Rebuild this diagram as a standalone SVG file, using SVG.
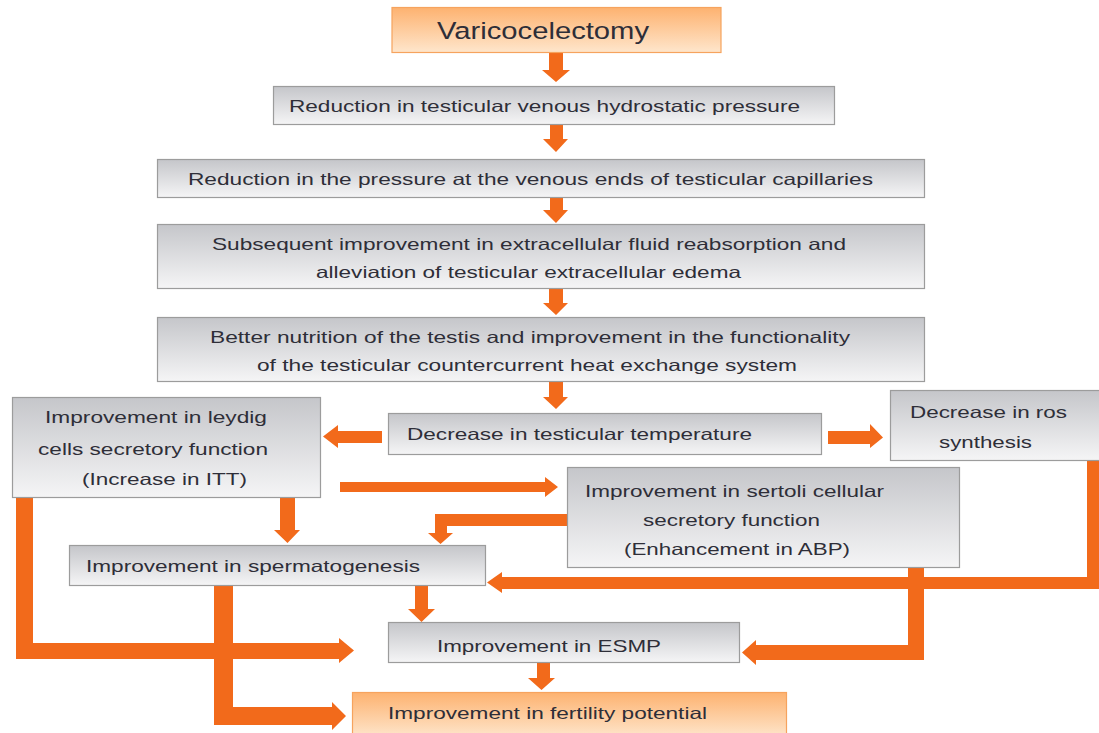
<svg xmlns="http://www.w3.org/2000/svg" width="1099" height="733" viewBox="0 0 1099 733">
<defs>
<linearGradient id="gGray" x1="0" y1="0" x2="0" y2="1">
<stop offset="0" stop-color="#c5c6ca"/>
<stop offset="1" stop-color="#f5f5f6"/>
</linearGradient>
<linearGradient id="gOrange" x1="0" y1="0" x2="0" y2="1">
<stop offset="0" stop-color="#fdb270"/>
<stop offset="1" stop-color="#fee6cc"/>
</linearGradient>
<style>
.box{fill:url(#gGray);stroke:#9c9c9c;stroke-width:1.2}
.obox{fill:url(#gOrange);stroke:#f6a35e;stroke-width:1.2}
.t{font-family:"Liberation Sans",Arial,sans-serif;font-size:16.5px;fill:#2e2e38}
.big{font-size:24.5px}
.c path{fill:#f26a1b;stroke:none}
</style>
</defs>
<rect width="1099" height="733" fill="#ffffff"/>

<g id="connectors" class="c">
<!-- straight down arrows -->
<path d="M549,53 H563 V70 H570 L556,82 L542,70 H549 Z"/>
<path d="M550,124 H563 V139 H568 L556,152 L543,139 H550 Z"/>
<path d="M550,198 H563 V210 H568 L556,223 L543,210 H550 Z"/>
<path d="M549,289 H563 V303 H568 L556,315 L543,303 H549 Z"/>
<path d="M549,382 H563 V397 H568 L556,409 L543,397 H549 Z"/>
<!-- temperature -> leydig -->
<path d="M382,431 V443 H338 V448 L323,436.5 L338,425 V431 Z"/>
<!-- temperature -> ros -->
<path d="M828,431 V444 H870 V448 L883,437.5 L870,424 V431 Z"/>
<!-- leydig -> sertoli -->
<path d="M340,482 H545 V477 L558,487 L545,497 V492 H340 Z"/>
<!-- leydig -> spermatogenesis -->
<path d="M280,498 H295 V530 H300 L287.5,543 L274,530 H280 Z"/>
<!-- sertoli -> spermatogenesis elbow -->
<path d="M567,514 V526 H447 V533 H453 L440.5,544 L428,533 H435 V514 Z"/>
<!-- ros -> spermatogenesis -->
<path d="M1087,461 H1099 V589 H502 V593 L487,582.5 L502,572 V577 H1087 Z"/>
<!-- spermatogenesis -> ESMP -->
<path d="M415,586 H428 V609 H435 L421.5,622 L408,609 H415 Z"/>
<!-- sertoli -> ESMP -->
<path d="M908,568 H924 V660 H756 V665 L742,652.5 L756,640 V645 H908 Z"/>
<!-- leydig -> ESMP -->
<path d="M16,498 H33 V643 H339 V638 L354,650.5 L339,663 V659 H16 Z"/>
<!-- spermatogenesis -> fertility -->
<path d="M214,586 H233 V707 H332 V702 L346,716 L332,730 V725 H214 Z"/>
<!-- ESMP -> fertility -->
<path d="M537,663 H550 V678 H555 L541.5,690 L528,678 H537 Z"/>
</g>

<g id="n-varicocelectomy">
<rect class="obox" x="392" y="7.5" width="329" height="45"/>
<text class="t big" x="437" y="39" textLength="212" lengthAdjust="spacingAndGlyphs">Varicocelectomy</text>
</g>

<g id="n-hydrostatic">
<rect class="box" x="273.5" y="86.5" width="561" height="38"/>
<text class="t" x="289" y="112" textLength="511" lengthAdjust="spacingAndGlyphs">Reduction in testicular venous hydrostatic pressure</text>
</g>

<g id="n-venous-ends">
<rect class="box" x="157.5" y="159.5" width="767" height="38"/>
<text class="t" x="188" y="185" textLength="685" lengthAdjust="spacingAndGlyphs">Reduction in the pressure at the venous ends of testicular capillaries</text>
</g>

<g id="n-reabsorption">
<rect class="box" x="157.5" y="224.5" width="767" height="64"/>
<text class="t" x="212" y="250" textLength="634" lengthAdjust="spacingAndGlyphs">Subsequent improvement in extracellular fluid reabsorption and</text>
<text class="t" x="316" y="278" textLength="425" lengthAdjust="spacingAndGlyphs">alleviation of testicular extracellular edema</text>
</g>

<g id="n-nutrition">
<rect class="box" x="157.5" y="317.5" width="767" height="64"/>
<text class="t" x="210" y="343" textLength="640" lengthAdjust="spacingAndGlyphs">Better nutrition of the testis and improvement in the functionality</text>
<text class="t" x="257" y="371" textLength="540" lengthAdjust="spacingAndGlyphs">of the testicular countercurrent heat exchange system</text>
</g>

<g id="n-temperature">
<rect class="box" x="388.5" y="413.5" width="433" height="41"/>
<text class="t" x="407" y="440" textLength="345" lengthAdjust="spacingAndGlyphs">Decrease in testicular temperature</text>
</g>

<g id="n-leydig">
<rect class="box" x="12.5" y="397.5" width="308" height="100"/>
<text class="t" x="45" y="423" textLength="222" lengthAdjust="spacingAndGlyphs">Improvement in leydig</text>
<text class="t" x="38" y="455" textLength="230" lengthAdjust="spacingAndGlyphs">cells secretory function</text>
<text class="t" x="82" y="485" textLength="165" lengthAdjust="spacingAndGlyphs">(Increase in ITT)</text>
</g>

<g id="n-ros">
<rect class="box" x="890.5" y="390.5" width="215" height="70"/>
<text class="t" x="910" y="418" textLength="157" lengthAdjust="spacingAndGlyphs">Decrease in ros</text>
<text class="t" x="939" y="448" textLength="93" lengthAdjust="spacingAndGlyphs">synthesis</text>
</g>

<g id="n-sertoli">
<rect class="box" x="567.5" y="467.5" width="392" height="100"/>
<text class="t" x="585" y="497" textLength="299" lengthAdjust="spacingAndGlyphs">Improvement in sertoli cellular</text>
<text class="t" x="643" y="526" textLength="177" lengthAdjust="spacingAndGlyphs">secretory function</text>
<text class="t" x="624" y="555" textLength="226" lengthAdjust="spacingAndGlyphs">(Enhancement in ABP)</text>
</g>

<g id="n-spermatogenesis">
<rect class="box" x="69.5" y="545.5" width="416" height="40"/>
<text class="t" x="86" y="572" textLength="334" lengthAdjust="spacingAndGlyphs">Improvement in spermatogenesis</text>
</g>

<g id="n-esmp">
<rect class="box" x="388.5" y="622.5" width="351" height="40"/>
<text class="t" x="437" y="652" textLength="224" lengthAdjust="spacingAndGlyphs">Improvement in ESMP</text>
</g>

<g id="n-fertility">
<rect class="obox" x="352.5" y="692.5" width="434" height="45"/>
<text class="t" x="388" y="719" textLength="319" lengthAdjust="spacingAndGlyphs">Improvement in fertility potential</text>
</g>
</svg>
